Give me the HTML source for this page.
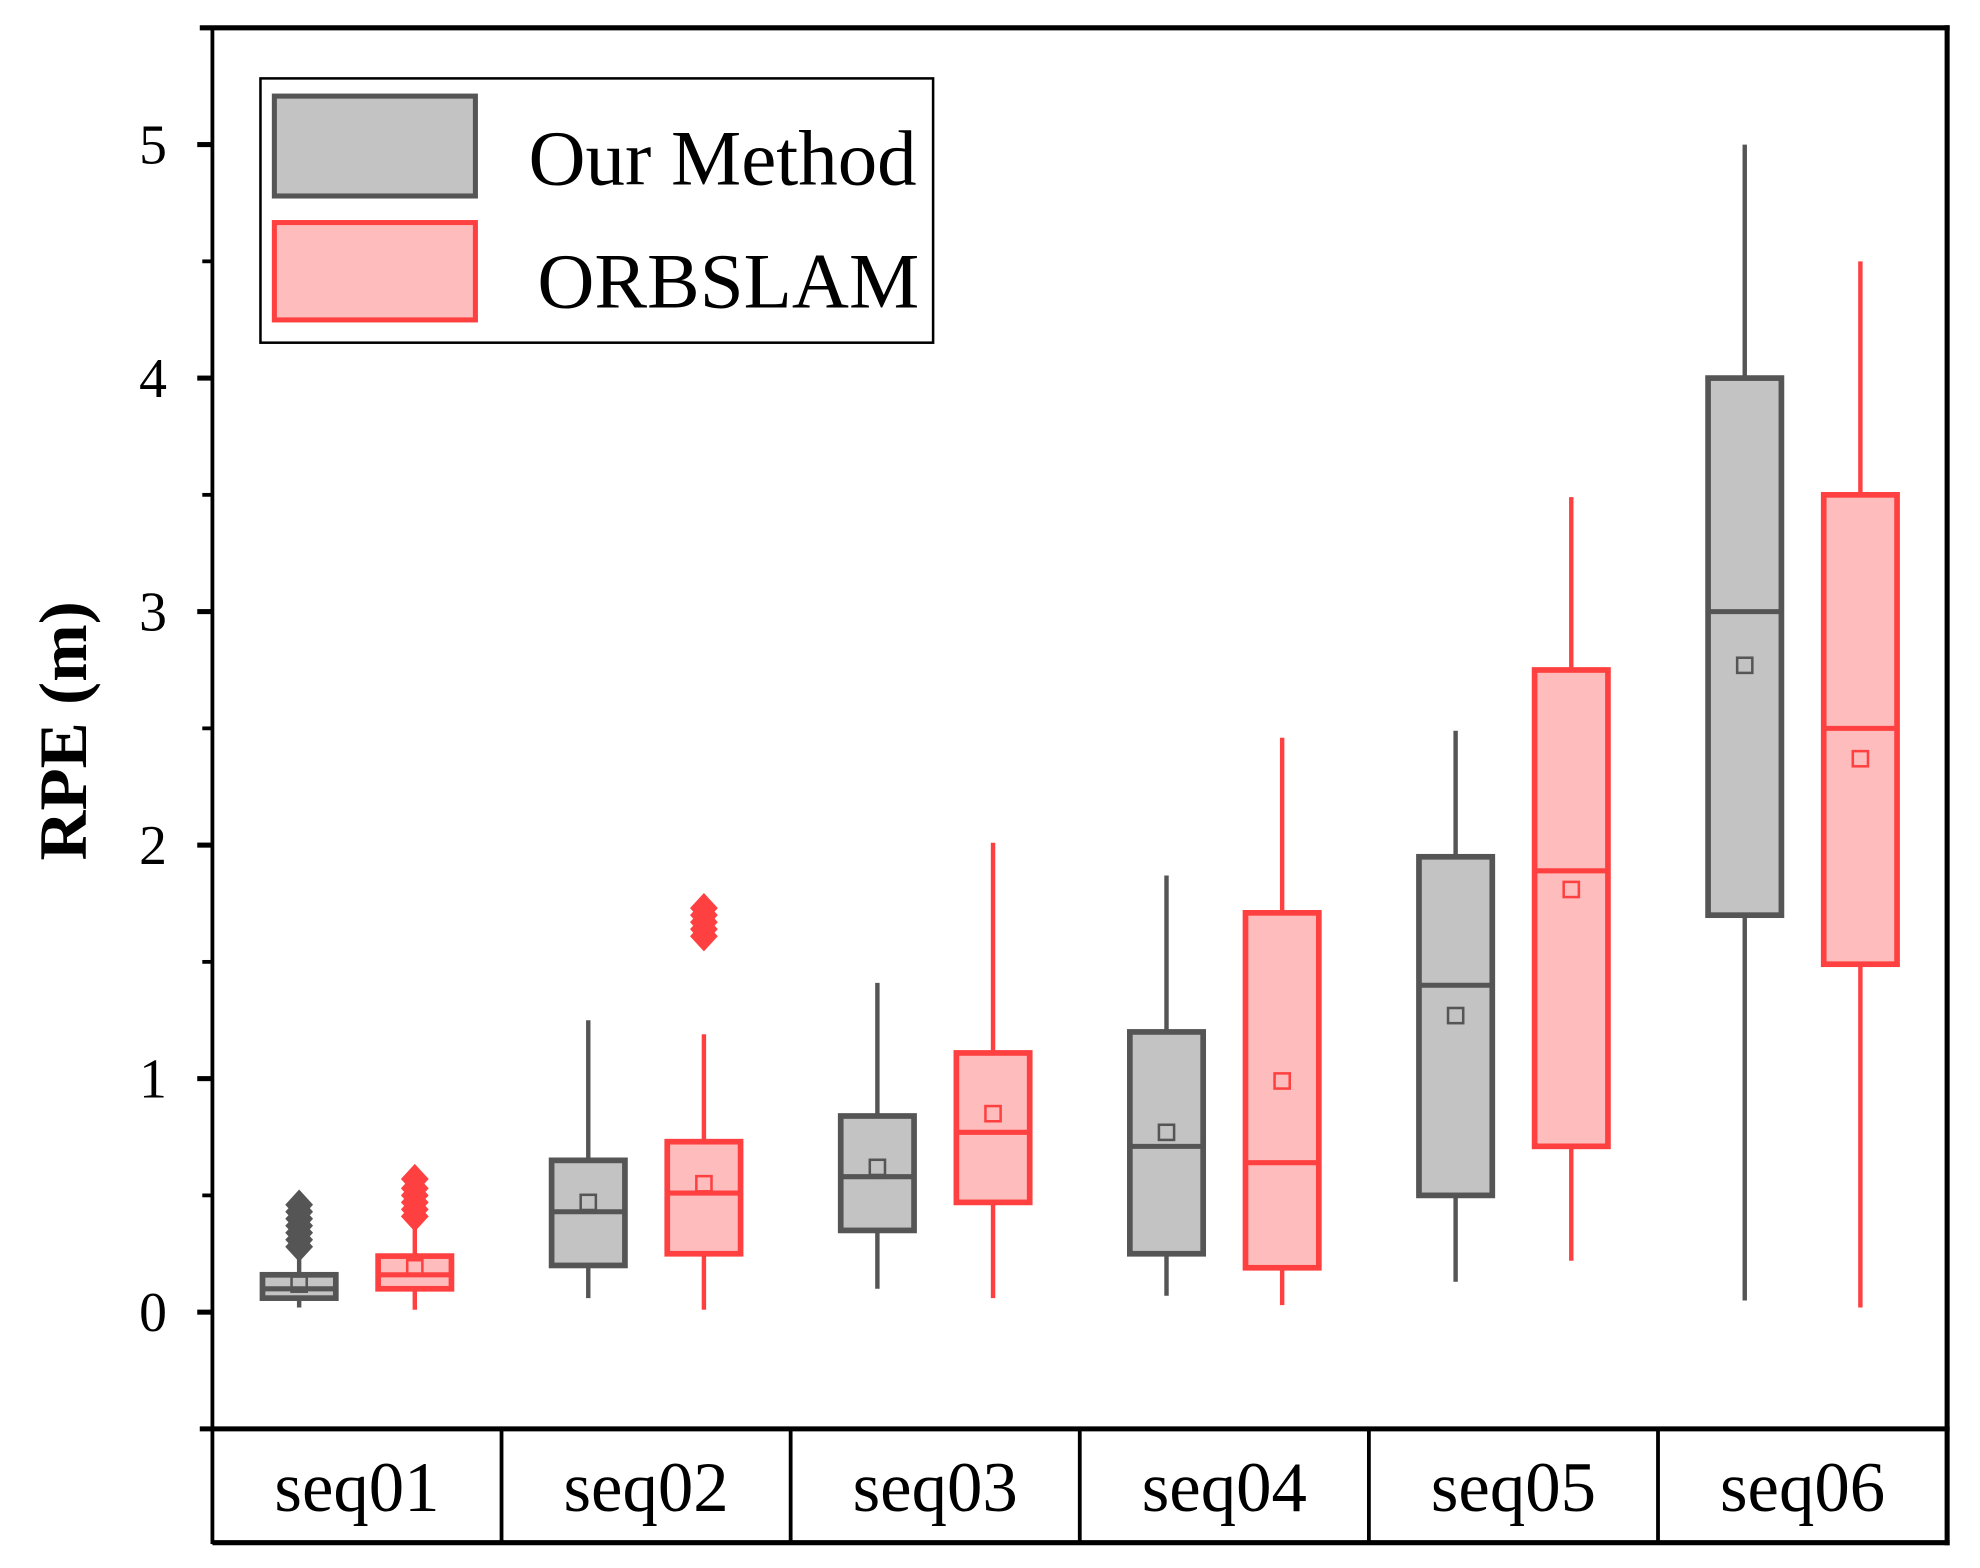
<!DOCTYPE html>
<html><head><meta charset="utf-8"><style>
html,body{margin:0;padding:0;background:#fff;}
svg{display:block;}
text{font-family:"Liberation Serif",serif;fill:#000;}
</style></head><body>
<svg id="chart" width="1980" height="1568" viewBox="0 0 1566 1240" preserveAspectRatio="none" xmlns="http://www.w3.org/2000/svg">
<rect x="0" y="0" width="1566" height="1240" fill="#fff"/>
<g id="marks"></g>
<g id="axes"></g>
<g>
<rect x="206" y="62" width="532" height="209" fill="#fff" stroke="#000" stroke-width="2"/>
<rect x="217" y="76" width="159" height="79" fill="#c3c3c3" stroke="#555" stroke-width="4"/>
<rect x="217" y="176" width="159" height="77" fill="#ffbcbc" stroke="#ff4040" stroke-width="4"/>
<text x="418" y="146" font-size="62" textLength="307" lengthAdjust="spacingAndGlyphs">Our Method</text>
<text x="425" y="243" font-size="62" textLength="302" lengthAdjust="spacingAndGlyphs">ORBSLAM</text>
</g>
<text transform="translate(68,578) rotate(-90)" text-anchor="middle" font-size="54" font-weight="bold" textLength="205" lengthAdjust="spacingAndGlyphs">RPE (m)</text>
</svg>
<script>
const categories = ["seq01","seq02","seq03","seq04","seq05","seq06"];
const oursLow  = [0.02,0.06,0.10,0.07,0.13,0.05];
const oursQ1   = [0.06,0.20,0.35,0.25,0.50,1.70];
const oursMed  = [0.10,0.43,0.58,0.71,1.40,3.00];
const oursQ3   = [0.16,0.65,0.84,1.20,1.95,4.00];
const oursHigh = [0.25,1.25,1.41,1.87,2.49,5.00];
const oursMean = [0.12,0.47,0.62,0.77,1.27,2.77];
const orbLow   = [0.01,0.01,0.06,0.03,0.22,0.02];
const orbQ1    = [0.10,0.25,0.47,0.19,0.71,1.49];
const orbMed   = [0.16,0.51,0.77,0.64,1.89,2.50];
const orbQ3    = [0.24,0.73,1.11,1.71,2.75,3.50];
const orbHigh  = [0.38,1.19,2.01,2.46,3.49,4.50];
const orbMean  = [0.19,0.55,0.85,0.99,1.81,2.37];
const oursOutliers = [[0.28,0.31,0.34,0.37,0.40,0.43,0.46],[],[],[],[],[]];
const orbOutliers  = [[0.41,0.44,0.47,0.50,0.53,0.57],[1.61,1.64,1.67,1.70,1.73],[],[],[],[]];
const yTicks = [0,1,2,3,4,5];
const yMinor = [-0.5,0.5,1.5,2.5,3.5,4.5,5.5];

const NS="http://www.w3.org/2000/svg";
const L=168,R=1540,T=22,B=1130,BB=1220;
const yMin=-0.5,yMax=5.5;
function y(v){return B-(v-yMin)/(yMax-yMin)*(B-T);}
const cw=(R-L)/categories.length;
function xc(i,s){return L+cw*i+cw*(s===0?0.3:0.7);}
function mk(tag,attrs,parent){const e=document.createElementNS(NS,tag);for(const k in attrs)e.setAttribute(k,attrs[k]);parent.appendChild(e);return e;}
const marks=document.getElementById('marks'),axes=document.getElementById('axes');
const series=[
 {name:'our-method',stroke:'#555',fill:'#c3c3c3',low:oursLow,q1:oursQ1,med:oursMed,q3:oursQ3,high:oursHigh,mean:oursMean,out:oursOutliers},
 {name:'orbslam',stroke:'#ff4040',fill:'#ffbcbc',low:orbLow,q1:orbQ1,med:orbMed,q3:orbQ3,high:orbHigh,mean:orbMean,out:orbOutliers}];
const bw=58;
series.forEach((s,si)=>{
 categories.forEach((c,i)=>{
  const x=xc(i,si);
  const g=mk('g',{},marks);
  
  
  const w=mk('line',{x1:x,x2:x,y1:y(s.low[i]),y2:y(s.high[i]),stroke:s.stroke,'stroke-width':3.5},g);
  
  
  const r=mk('rect',{x:x-bw/2,y:y(s.q3[i]),width:bw,height:y(s.q1[i])-y(s.q3[i]),fill:s.fill,stroke:s.stroke,'stroke-width':4.5},g);
  
  
  const m=mk('line',{x1:x-bw/2,x2:x+bw/2,y1:y(s.med[i]),y2:y(s.med[i]),stroke:s.stroke,'stroke-width':4},g);
  
  
  const mn=mk('rect',{x:x-6,y:y(s.mean[i])-6,width:12,height:12,fill:'none',stroke:s.stroke,'stroke-width':2},g);
  
  
  s.out[i].forEach(v=>{
   const p=mk('polygon',{points:`${x},${y(v)-12} ${x+11},${y(v)} ${x},${y(v)+12} ${x-11},${y(v)}`,fill:s.stroke},g);
   
   
  });
 });
});
const f1=mk('line',{x1:158,x2:R+2,y1:T,y2:T,stroke:'#000','stroke-width':4},axes);


const f2=mk('line',{x1:L,x2:L,y1:T,y2:BB+1,stroke:'#000','stroke-width':3},axes);


const f3=mk('line',{x1:R,x2:R,y1:T-2,y2:BB+2,stroke:'#000','stroke-width':4},axes);


const f4=mk('line',{x1:158,x2:R+2,y1:B,y2:B,stroke:'#000','stroke-width':4},axes);


const f5=mk('line',{x1:L,x2:R+2,y1:BB,y2:BB,stroke:'#000','stroke-width':4},axes);


yTicks.forEach(v=>{
 const t=mk('line',{x1:156,x2:L,y1:y(v),y2:y(v),stroke:'#000','stroke-width':4},axes);
 
 
 const tx=mk('text',{x:132,y:y(v)+15,'text-anchor':'end','font-size':44},axes);
 
 
 tx.textContent=String(v);
});
yMinor.forEach(v=>{
 const t=mk('line',{x1:160,x2:L,y1:y(v),y2:y(v),stroke:'#000','stroke-width':3},axes);
 
 
});
categories.forEach((c,i)=>{
 if(i>0){
  const s=mk('line',{x1:L+cw*i,x2:L+cw*i,y1:B,y2:BB,stroke:'#000','stroke-width':3},axes);
  
  
 }
 const t=mk('text',{x:L+cw*(i+0.5),y:1195,'text-anchor':'middle','font-size':56},axes);
 
 
 t.textContent=c;
});
</script>
</body></html>
